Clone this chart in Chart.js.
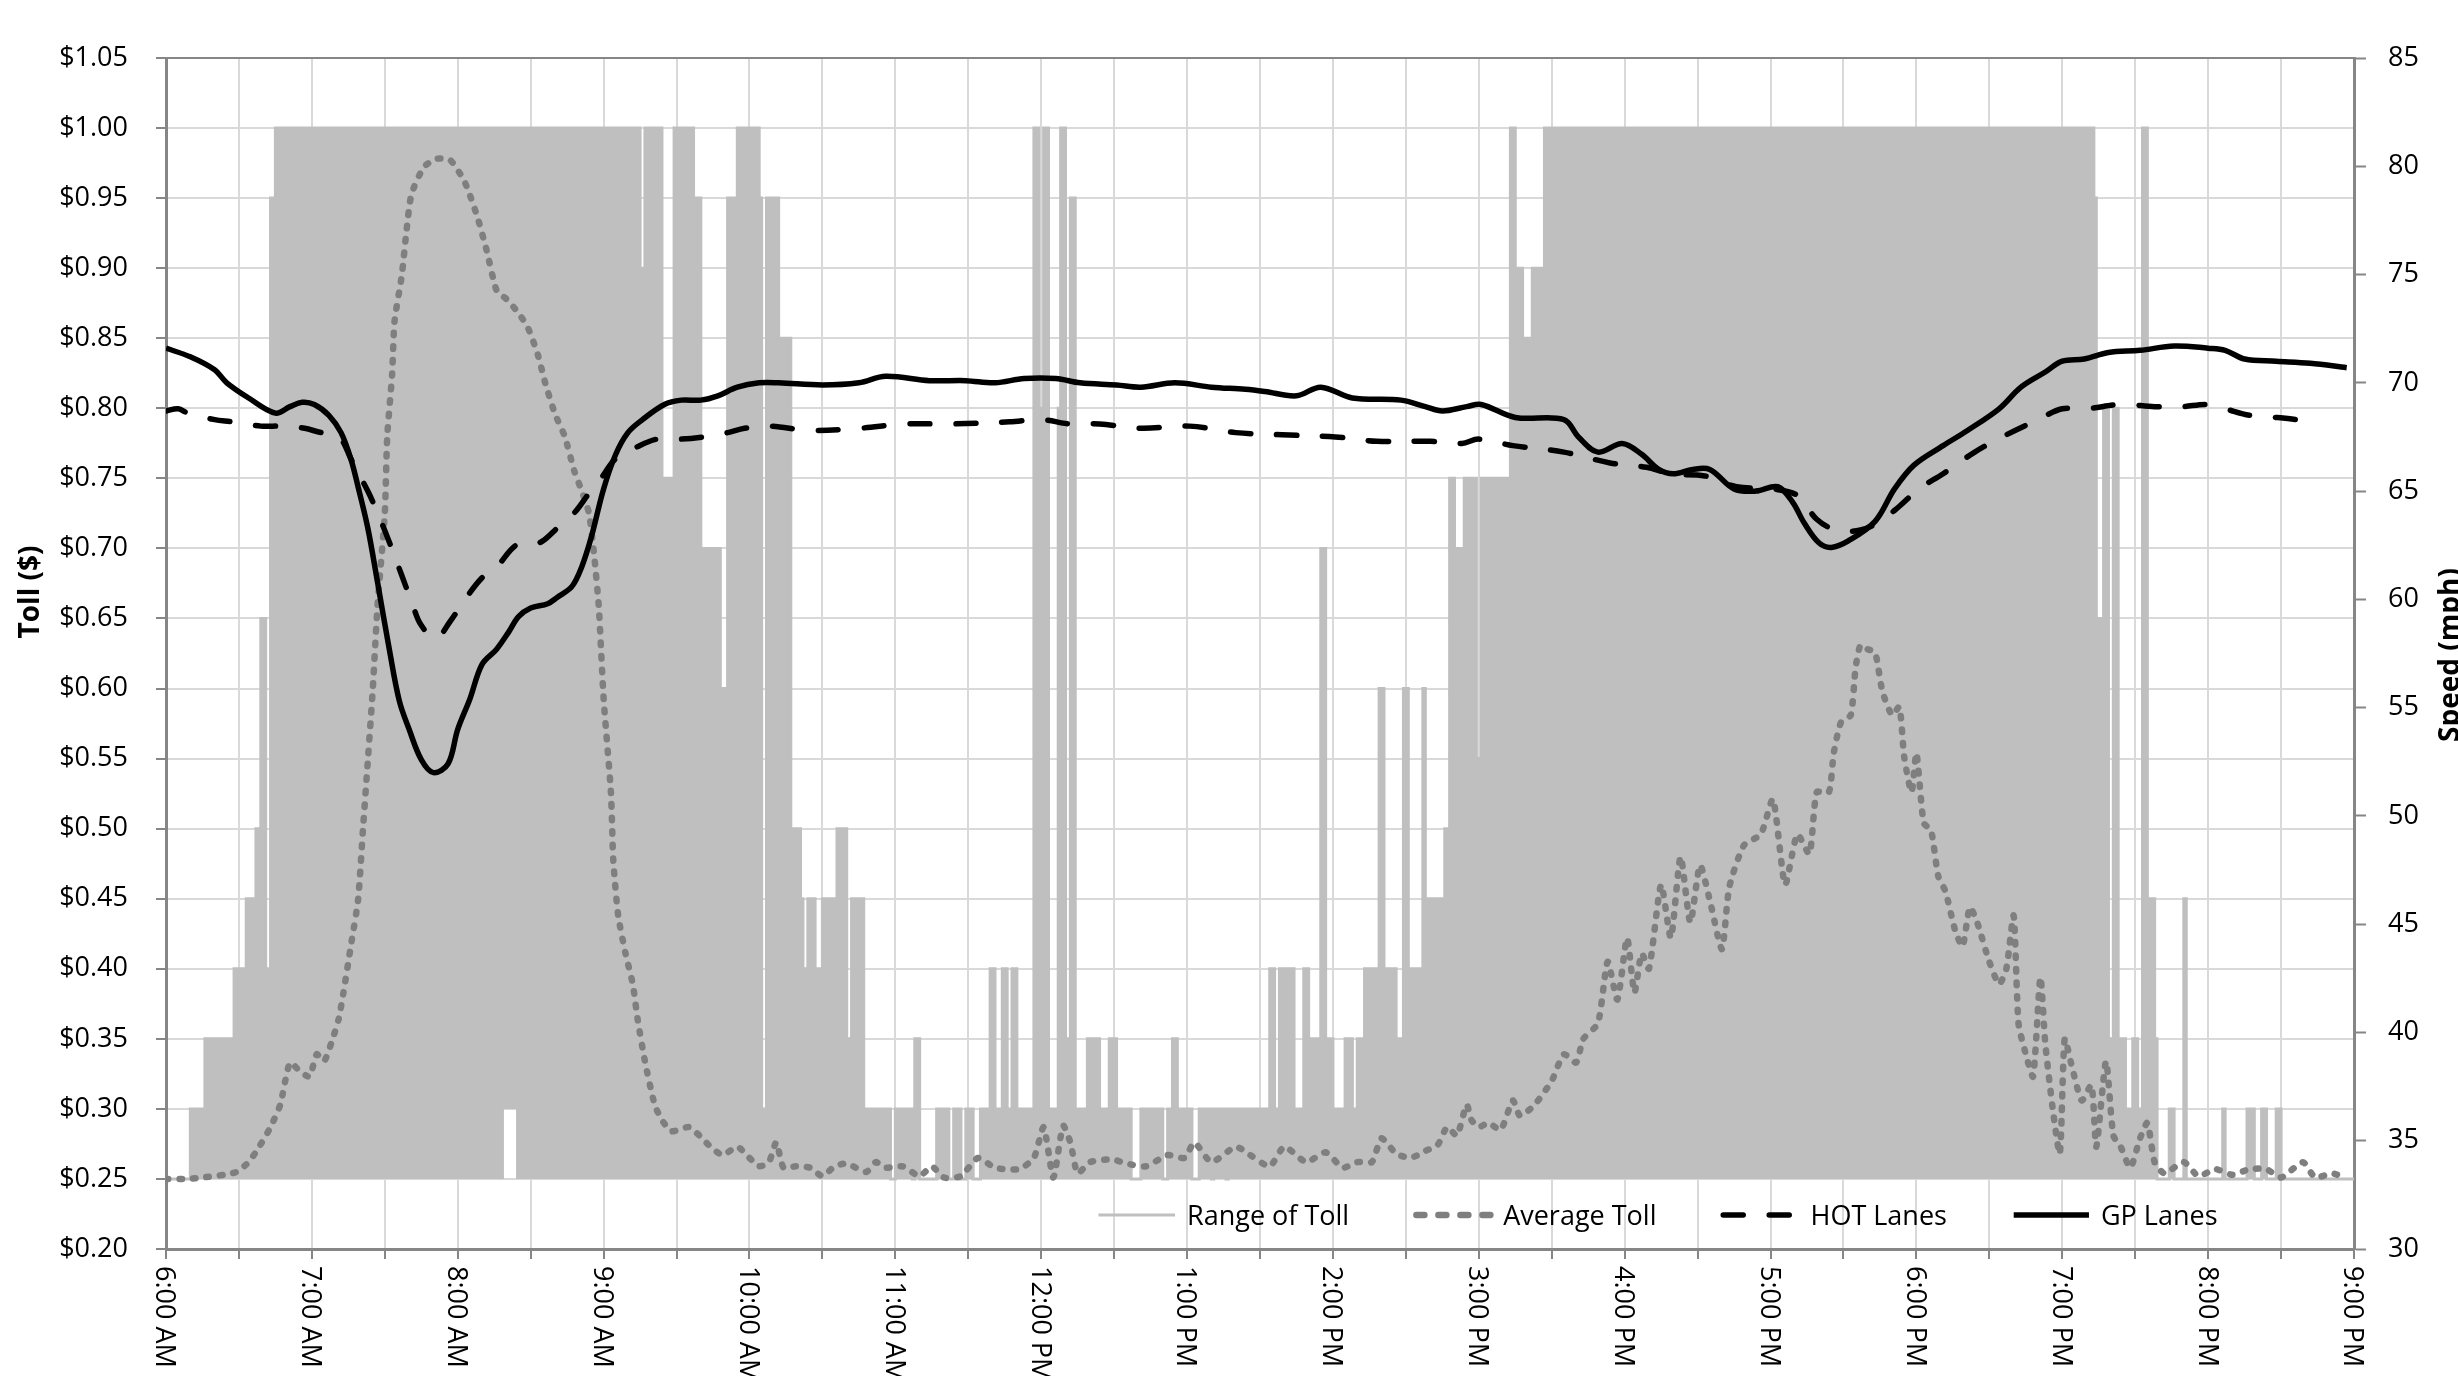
<!DOCTYPE html>
<html>
<head>
<meta charset="utf-8">
<title>Toll and Speed by Time of Day</title>
<script src="https://cdn.jsdelivr.net/npm/chart.js@4.4.1/dist/chart.umd.min.js"></script>
<style>
  html, body { margin: 0; padding: 0; background: #fff; }
  #wrap { width: 2458px; height: 1376px; position: relative; }
</style>
</head>
<body>
<div id="wrap"><canvas id="chart"></canvas></div>
<script>
/* ═══════════════════════════════════════════════
   TOLL RANGE / AVERAGE TOLL / LANE SPEEDS
═══════════════════════════════════════════════ */

// ── x axis: minutes after 6:00 AM, labels every hour ──
const hourLabels = [
  '6:00 AM', '7:00 AM', '8:00 AM', '9:00 AM', '10:00 AM', '11:00 AM', '12:00 PM', '1:00 PM',
  '2:00 PM', '3:00 PM', '4:00 PM', '5:00 PM', '6:00 PM', '7:00 PM', '8:00 PM', '9:00 PM'
];

// ── Range of Toll: upper value, held until the next change (minutes after 6:00 AM) ──
const rangeMinutes = [
  0, 10, 16, 28, 32, 33, 36, 37, 39, 41,
  43, 45, 195, 197, 198, 199, 201, 202, 204, 209,
  217, 220, 228, 229, 231, 235, 244, 245, 247, 252,
  253, 254, 255, 257, 258, 261, 262, 264, 265, 266,
  267, 270, 275, 276, 280, 282, 284, 285, 287, 298,
  300, 307, 308, 310, 317, 322, 324, 327, 329, 332,
  335, 339, 341, 344, 346, 348, 350, 357, 359, 361,
  363, 367, 368, 370, 372, 374, 379, 384, 388, 391,
  397, 401, 410, 412, 414, 416, 422, 425, 430, 431,
  436, 437, 454, 456, 458, 464, 468, 470, 475, 477,
  480, 485, 488, 490, 493, 499, 501, 506, 509, 511,
  517, 518, 526, 528, 530, 531, 534, 539, 541, 552,
  553, 555, 556, 558, 561, 562, 564, 565, 567, 569,
  570, 578, 579, 587, 588, 780, 781, 788, 789, 793,
  794, 797, 799, 801, 803, 806, 809, 811, 813, 815,
  816, 818, 819, 824, 826, 830, 831, 846, 847, 856,
  859, 862, 864, 868, 870, 900
];
const rangeHigh = [
  0.25, 0.30, 0.35, 0.40, 0.35, 0.45, 0.40, 0.50, 0.65, 0.40,
  0.95, 1.00, 0.90, 1.00, 0.95, 1.00, 0.95, 1.00, 0.75, 1.00,
  0.95, 0.70, 0.40, 0.60, 0.95, 1.00, 0.95, 0.30, 0.95, 0.55,
  0.85, 0.55, 0.85, 0.30, 0.50, 0.45, 0.40, 0.45, 0.40, 0.45,
  0.40, 0.45, 0.35, 0.50, 0.35, 0.45, 0.35, 0.45, 0.30, 0.25,
  0.30, 0.25, 0.35, 0.25, 0.30, 0.25, 0.30, 0.25, 0.30, 0.25,
  0.30, 0.40, 0.30, 0.40, 0.30, 0.40, 0.30, 1.00, 0.80, 1.00,
  0.30, 0.80, 1.00, 0.35, 0.95, 0.30, 0.35, 0.30, 0.35, 0.30,
  0.25, 0.30, 0.25, 0.30, 0.35, 0.30, 0.25, 0.30, 0.25, 0.30,
  0.25, 0.30, 0.40, 0.30, 0.40, 0.30, 0.40, 0.35, 0.70, 0.35,
  0.30, 0.35, 0.30, 0.35, 0.40, 0.60, 0.40, 0.35, 0.60, 0.40,
  0.60, 0.45, 0.50, 0.75, 0.50, 0.70, 0.75, 0.55, 0.75, 0.60,
  1.00, 0.40, 0.90, 0.85, 0.60, 0.90, 0.60, 0.90, 1.00, 0.90,
  1.00, 0.95, 1.00, 0.85, 1.00, 0.85, 1.00, 0.95, 1.00, 0.95,
  0.65, 0.80, 0.35, 0.80, 0.35, 0.30, 0.35, 0.30, 1.00, 0.30,
  0.45, 0.35, 0.25, 0.30, 0.25, 0.45, 0.25, 0.30, 0.25, 0.30,
  0.25, 0.30, 0.25, 0.30, 0.25, 0.25
];
// lower value of the range (only departs from $0.25 once)
const rangeLowMinutes = [0, 139, 144, 900];
const rangeLow        = [0.25, 0.30, 0.25, 0.25];

// ── Average Toll ──
const avgMinutes = [
  0, 9, 15, 24, 29, 34, 38, 43, 47, 51,
  55, 59, 62, 65, 68, 71, 73, 76, 79, 81,
  83, 85, 87, 90, 91, 93, 94, 97, 99, 101,
  106, 111, 117, 123, 128, 132, 136, 140, 145, 149,
  153, 156, 160, 164, 168, 171, 174, 176, 178, 180,
  183, 184, 186, 189, 192, 194, 197, 201, 204, 208,
  215, 220, 224, 229, 235, 240, 244, 248, 251, 254,
  259, 265, 270, 275, 280, 288, 292, 296, 303, 310,
  315, 320, 327, 334, 341, 351, 357, 361, 365, 369,
  372, 375, 380, 389, 395, 403, 412, 419, 423, 430,
  440, 446, 454, 460, 469, 477, 484, 490, 496, 500,
  506, 512, 518, 523, 527, 531, 535, 537, 540, 544,
  549, 554, 557, 563, 570, 575, 580, 583, 589, 593,
  597, 601, 604, 607, 610, 615, 619, 623, 627, 631,
  635, 640, 643, 649, 656, 661, 666, 671, 676, 679,
  684, 686, 689, 693, 695, 697, 700, 703, 706, 710,
  713, 715, 718, 720, 723, 726, 729, 732, 736, 739,
  742, 745, 750, 754, 757, 760, 762, 765, 768, 771,
  773, 776, 779, 781, 784, 788, 792, 794, 798, 801,
  804, 808, 812, 815, 818, 822, 830, 836, 843, 850,
  857, 864, 870, 879, 884, 891, 896
];
const avgToll = [
  0.250, 0.250, 0.251, 0.253, 0.255, 0.262, 0.272, 0.287, 0.303, 0.333,
  0.327, 0.323, 0.339, 0.334, 0.347, 0.364, 0.383, 0.416, 0.449, 0.499,
  0.548, 0.598, 0.659, 0.725, 0.780, 0.824, 0.862, 0.895, 0.928, 0.953,
  0.972, 0.978, 0.977, 0.961, 0.937, 0.912, 0.884, 0.878, 0.868, 0.857,
  0.838, 0.818, 0.796, 0.780, 0.755, 0.741, 0.725, 0.697, 0.659, 0.593,
  0.526, 0.477, 0.438, 0.411, 0.389, 0.364, 0.334, 0.303, 0.292, 0.284,
  0.287, 0.280, 0.273, 0.267, 0.273, 0.265, 0.259, 0.262, 0.276, 0.258,
  0.259, 0.258, 0.252, 0.259, 0.261, 0.255, 0.262, 0.258, 0.259, 0.252,
  0.259, 0.251, 0.252, 0.265, 0.258, 0.257, 0.265, 0.287, 0.251, 0.288,
  0.276, 0.254, 0.262, 0.264, 0.261, 0.259, 0.267, 0.265, 0.276, 0.262,
  0.273, 0.267, 0.259, 0.273, 0.262, 0.269, 0.258, 0.262, 0.262, 0.279,
  0.268, 0.265, 0.270, 0.274, 0.287, 0.281, 0.303, 0.292, 0.287, 0.290,
  0.285, 0.306, 0.295, 0.303, 0.320, 0.339, 0.333, 0.350, 0.361, 0.405,
  0.378, 0.422, 0.383, 0.411, 0.400, 0.460, 0.422, 0.480, 0.433, 0.474,
  0.449, 0.414, 0.458, 0.488, 0.496, 0.521, 0.460, 0.496, 0.482, 0.526,
  0.526, 0.554, 0.576, 0.581, 0.615, 0.631, 0.628, 0.626, 0.598, 0.581,
  0.587, 0.551, 0.526, 0.554, 0.504, 0.499, 0.466, 0.455, 0.427, 0.416,
  0.444, 0.433, 0.405, 0.389, 0.400, 0.438, 0.361, 0.339, 0.323, 0.394,
  0.347, 0.301, 0.268, 0.350, 0.330, 0.306, 0.317, 0.273, 0.334, 0.281,
  0.273, 0.258, 0.279, 0.290, 0.262, 0.254, 0.262, 0.252, 0.257, 0.253,
  0.257, 0.257, 0.251, 0.262, 0.251, 0.254, 0.251
];

// ── HOT Lanes speed (mph) ──
const hotMinutes = [
  0, 5, 9, 20, 27, 39, 48, 57, 64, 67,
  72, 76, 83, 87, 92, 97, 101, 105, 111, 117,
  123, 130, 136, 144, 150, 155, 161, 168, 174, 179,
  185, 193, 202, 212, 221, 231, 238, 248, 265, 285,
  304, 323, 347, 360, 372, 384, 401, 421, 440, 459,
  481, 498, 520, 533, 540, 554, 575, 594, 609, 619,
  633, 646, 661, 671, 679, 687, 697, 705, 713, 721,
  731, 744, 757, 770, 780, 790, 804, 818, 829, 840,
  847, 857, 868, 876, 886
];
const hotSpeed = [
  68.7, 68.8, 68.6, 68.3, 68.2, 68.0, 68.0, 67.9, 67.7, 67.7,
  67.4, 66.5, 65.0, 64.0, 62.6, 61.1, 59.9, 58.8, 58.2, 59.0,
  60.0, 61.0, 61.5, 62.5, 62.5, 62.7, 63.3, 64.0, 64.9, 65.6,
  66.5, 67.0, 67.4, 67.4, 67.5, 67.7, 67.9, 68.0, 67.8, 67.9,
  68.1, 68.1, 68.2, 68.3, 68.1, 68.1, 67.9, 68.0, 67.7, 67.6,
  67.5, 67.3, 67.3, 67.2, 67.4, 67.1, 66.8, 66.3, 66.1, 65.8,
  65.7, 65.2, 65.1, 64.8, 63.7, 63.2, 63.2, 63.6, 64.3, 65.1,
  65.8, 66.8, 67.6, 68.3, 68.8, 68.8, 69.0, 68.9, 68.9, 69.0,
  68.8, 68.5, 68.4, 68.3, 68.1
];

// ── GP Lanes speed (mph) ──
const gpMinutes = [
  0, 10, 20, 25, 34, 45, 51, 56, 61, 67,
  72, 76, 79, 83, 87, 92, 96, 100, 105, 110,
  116, 120, 125, 130, 136, 141, 145, 150, 157, 161,
  167, 171, 175, 180, 185, 190, 196, 205, 212, 220,
  227, 235, 244, 252, 270, 285, 296, 314, 329, 341,
  353, 366, 376, 391, 401, 415, 430, 444, 452, 465,
  475, 488, 508, 518, 525, 535, 541, 555, 575, 581,
  589, 599, 607, 614, 620, 628, 635, 645, 654, 663,
  669, 674, 680, 685, 692, 703, 711, 719, 731, 741,
  754, 763, 773, 780, 789, 799, 812, 826, 840, 847,
  855, 868, 882, 897
];
const gpSpeed = [
  71.6, 71.2, 70.6, 70.0, 69.3, 68.6, 68.9, 69.1, 69.0, 68.5,
  67.7, 66.5, 65.2, 63.3, 60.8, 57.6, 55.3, 54.0, 52.6, 52.0,
  52.4, 54.0, 55.4, 57.0, 57.7, 58.5, 59.2, 59.6, 59.8, 60.1,
  60.6, 61.5, 62.9, 65.1, 66.7, 67.7, 68.3, 69.0, 69.2, 69.2,
  69.4, 69.8, 70.0, 70.0, 69.9, 70.0, 70.3, 70.1, 70.1, 70.0,
  70.2, 70.2, 70.0, 69.9, 69.8, 70.0, 69.8, 69.7, 69.6, 69.4,
  69.8, 69.3, 69.2, 68.9, 68.7, 68.9, 69.0, 68.4, 68.3, 67.5,
  66.8, 67.2, 66.7, 66.0, 65.8, 66.0, 66.0, 65.1, 65.0, 65.2,
  64.5, 63.5, 62.6, 62.4, 62.7, 63.6, 65.1, 66.2, 67.1, 67.8,
  68.8, 69.8, 70.5, 71.0, 71.1, 71.4, 71.5, 71.7, 71.6, 71.5,
  71.1, 71.0, 70.9, 70.7
];

// ══════════════════════════════════════════════
// STYLE
// ══════════════════════════════════════════════
const FONT       = "'Open Sans', sans-serif";
const AXIS_GREY  = '#868686';
const GRID_GREY  = '#D9D9D9';
const RANGE_GREY = '#BFBFBF';
const AVG_GREY   = '#7F7F7F';

const toPoints = (xs, ys) => xs.map((x, i) => ({ x, y: ys[i] }));

// ══════════════════════════════════════════════
// EXTRA DRAWING: rotated hour labels, axis titles, legend
// ══════════════════════════════════════════════
const decorations = {
  id: 'decorations',
  afterDraw(chart) {
    const { ctx, chartArea, scales } = chart;
    ctx.save();
    ctx.fillStyle = '#000';

    // hour labels, reading top to bottom
    ctx.font = `27px ${FONT}`;
    ctx.textAlign = 'left';
    ctx.textBaseline = 'alphabetic';
    hourLabels.forEach((label, i) => {
      const x = scales.x.getPixelForValue(i * 60);
      ctx.save();
      ctx.translate(x - 9.6, chartArea.bottom + 17);
      ctx.rotate(Math.PI / 2);
      ctx.fillText(label, 0, 0);
      ctx.restore();
    });

    // axis titles
    ctx.font = `bold 28px ${FONT}`;
    ctx.textAlign = 'center';
    ctx.save();
    ctx.translate(39, 592);
    ctx.rotate(-Math.PI / 2);
    ctx.fillText('Toll ($)', 0, 0);
    ctx.restore();
    ctx.save();
    ctx.translate(2459, 655);
    ctx.rotate(-Math.PI / 2);
    ctx.fillText('Speed (mph)', 0, 0);
    ctx.restore();

    // legend, inside the plot just above the $0.20 line
    ctx.font = `27px ${FONT}`;
    ctx.textAlign = 'left';
    let lx = 1097;
    const ly = 1215;
    chart.data.datasets.filter(ds => !ds.hideInLegend).forEach(ds => {
      ctx.save();
      ctx.strokeStyle = ds.borderColor;
      ctx.lineWidth = ds.borderWidth;
      ctx.lineCap = ds.borderCapStyle || 'butt';
      ctx.setLineDash(ds.legendDash || ds.borderDash || []);
      ctx.beginPath();
      ctx.moveTo(lx + ctx.lineWidth / 2, ly);
      ctx.lineTo(lx + 78, ly);
      ctx.stroke();
      ctx.restore();
      ctx.fillText(ds.label, lx + 90, ly + 9.6);
      lx += 90 + ctx.measureText(ds.label).width + 64;
    });

    ctx.restore();
  }
};

// ══════════════════════════════════════════════
// CHART
// ══════════════════════════════════════════════
Chart.defaults.font.family = FONT;
Chart.defaults.font.size   = 27;
Chart.defaults.color       = '#000';

new Chart(document.getElementById('chart'), {
  type: 'line',
  data: {
    datasets: [
      {
        label: 'Range of Toll',
        data: toPoints(rangeMinutes, rangeHigh),
        yAxisID: 'y',
        stepped: 'before',
        borderColor: RANGE_GREY,
        backgroundColor: RANGE_GREY,
        borderWidth: 3,
        fill: '+1',
        pointRadius: 0,
        order: 3,
      },
      {
        label: 'Range low',
        hideInLegend: true,
        data: toPoints(rangeLowMinutes, rangeLow),
        yAxisID: 'y',
        stepped: 'before',
        borderColor: 'rgba(0,0,0,0)',
        borderWidth: 0,
        fill: false,
        pointRadius: 0,
        order: 4,
      },
      {
        label: 'Average Toll',
        data: toPoints(avgMinutes, avgToll),
        yAxisID: 'y',
        borderColor: AVG_GREY,
        borderWidth: 6.5,
        borderDash: [2.5, 11],
        legendDash: [8, 14],
        borderCapStyle: 'round',
        tension: 0.2,
        fill: false,
        pointRadius: 0,
        order: 2,
      },
      {
        label: 'HOT Lanes',
        data: toPoints(hotMinutes, hotSpeed),
        yAxisID: 'y2',
        borderColor: '#000',
        borderWidth: 5.5,
        borderDash: [20, 26],
        borderCapStyle: 'round',
        tension: 0.35,
        fill: false,
        pointRadius: 0,
        order: 1,
      },
      {
        label: 'GP Lanes',
        data: toPoints(gpMinutes, gpSpeed),
        yAxisID: 'y2',
        borderColor: '#000',
        borderWidth: 5.5,
        borderJoinStyle: 'round',
        tension: 0.35,
        fill: false,
        pointRadius: 0,
        order: 0,
      },
    ]
  },
  options: {
    responsive: true,
    maintainAspectRatio: false,
    animation: false,
    devicePixelRatio: 1,
    layout: { padding: { top: 58, left: 0, right: 0, bottom: 0 } },
    plugins: {
      legend:  { display: false },
      tooltip: { enabled: false },
    },
    scales: {
      x: {
        type: 'linear',
        min: 0,
        max: 900,
        afterFit: s => { s.height = 127; },
        ticks: { stepSize: 30, display: false },
        grid: {
          color: c => (c.tick && (c.tick.value === 0 || c.tick.value === 900)) ? AXIS_GREY : GRID_GREY,
          lineWidth: 2,
          tickLength: 10,
          tickColor: AXIS_GREY,
          tickWidth: 2,
        },
        border: { color: AXIS_GREY, width: 3 },
      },
      y: {
        position: 'left',
        min: 0.2,
        max: 1.05,
        afterFit: s => { s.width = 166; },
        ticks: { stepSize: 0.05, padding: 28, callback: v => '$' + v.toFixed(2) },
        grid: {
          color: c => (c.tick && (Math.abs(c.tick.value - 1.05) < 1e-6 || Math.abs(c.tick.value - 0.2) < 1e-6)) ? AXIS_GREY : GRID_GREY,
          lineWidth: 2,
          tickLength: 10,
          tickColor: AXIS_GREY,
          tickWidth: 2,
        },
        border: { color: AXIS_GREY, width: 3 },
      },
      y2: {
        position: 'right',
        min: 30,
        max: 85,
        afterFit: s => { s.width = 104; },
        ticks: { stepSize: 5, padding: 22 },
        grid: {
          drawOnChartArea: false,
          tickLength: 12,
          tickColor: AXIS_GREY,
          tickWidth: 2,
        },
        border: { color: AXIS_GREY, width: 3 },
      },
    },
  },
  plugins: [decorations],
});
</script>
</body>
</html>
